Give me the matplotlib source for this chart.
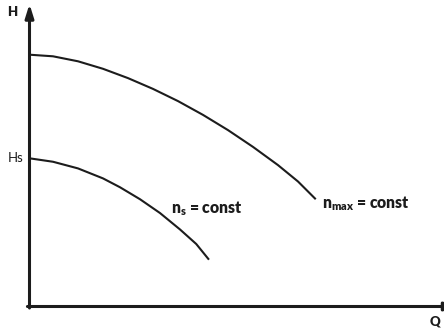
import numpy as np
import matplotlib.pyplot as plt

plt.rcParams['font.family'] = ['Lato', 'DejaVu Sans']
plt.rcParams['mathtext.fontset'] = 'custom'
plt.rcParams['mathtext.rm'] = 'Lato'
plt.rcParams['mathtext.it'] = 'Lato'
plt.rcParams['mathtext.bf'] = 'Lato:heavy'

# pump curves (Q, H in arbitrary units 0..100)
q_max_curve = [0, 5.67, 11.70, 17.73, 23.76, 29.80, 35.83, 41.86, 47.89, 53.92, 59.95, 64.78, 68.88]
h_max_curve = [83.24, 82.71, 81.06, 78.58, 75.50, 71.93, 67.90, 63.34, 58.31, 52.76, 46.74, 41.32, 35.70]

q_s_curve = [0, 5.67, 11.70, 17.73, 21.83, 26.66, 31.48, 36.31, 40.23, 43.14]
h_s_curve = [48.99, 47.85, 45.65, 42.35, 39.42, 35.46, 30.90, 25.47, 20.66, 15.74]

label_max = r'$\mathbf{n_{max}}$' + ' = const'
label_s = r'$\mathbf{n_{s}}$' + ' = const'
label_hs = 'Hs'

W, H = 444, 332
fig = plt.figure(figsize=(W / 100, H / 100), dpi=100)
# origin at pixel (29.5, 306.5), top of y axis at pixel 4
ax = fig.add_axes([29.5 / W, (H - 306.5) / H, (W - 29.5) / W, (306.5 - 4) / H])
ax.set_xlim(0, 100)
ax.set_ylim(0, 100)
ax.axis('off')

ink = '#1c1c1c'
ax.plot(q_max_curve, h_max_curve, color=ink, lw=1.5, solid_joinstyle='round')
ax.plot(q_s_curve, h_s_curve, color=ink, lw=1.5, solid_joinstyle='round')

# axes with arrow heads
arrow = dict(arrowstyle='-|>,head_length=0.8,head_width=0.25', lw=2.2,
             color=ink, mutation_scale=10, shrinkA=0, shrinkB=0)
ax.annotate('', xy=(0, 100), xytext=(0, -0.5), arrowprops=arrow, annotation_clip=False)
ax.annotate('', xy=(103.5, 0), xytext=(-0.5, 0), arrowprops=arrow, annotation_clip=False)

ax.text(-4.1, 97.4, 'H', fontsize=9.5, fontweight='heavy', ha='center', va='center',
        color=ink, clip_on=False)
ax.text(97.8, -5.1, 'Q', fontsize=9.5, fontweight='heavy', ha='center', va='center',
        color=ink, clip_on=False)
ax.text(-1.5, 49.1, label_hs, fontsize=9.5, ha='right', va='center',
        color=ink, clip_on=False)
ax.text(34.1, 32.2, label_s, fontsize=11.3, fontweight='heavy', ha='left', va='center',
        color=ink)
ax.text(70.5, 33.9, label_max, fontsize=11.3, fontweight='heavy', ha='left', va='center',
        color=ink)

fig.savefig('out.png', dpi=100)
